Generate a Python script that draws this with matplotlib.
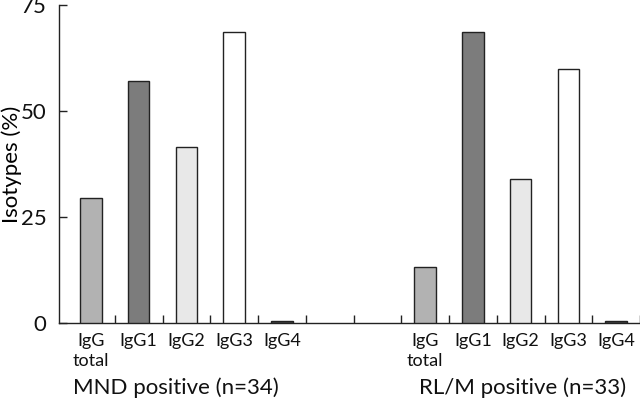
import matplotlib
matplotlib.use("Agg")
import matplotlib.pyplot as plt
import numpy as np

plt.rcParams['font.family'] = ['Lato', 'DejaVu Sans']

categories = ["IgG\ntotal", "IgG1", "IgG2", "IgG3", "IgG4"]
mnd_values = [29.6, 57.1, 41.6, 68.6, 0.4]
rlm_values = [13.2, 68.6, 33.9, 59.8, 0.4]
groups = ["MND positive (n=34)", "RL/M positive (n=33)"]
colors = ["#b2b2b2", "#7c7c7c", "#e8e8e8", "#ffffff", "#444444"]
yticks = [0, 25, 50, 75]

fig = plt.figure(figsize=(6.4, 4.01), dpi=100)
ax = fig.add_axes([0.0922, 0.1945, 0.9078, 0.793])

x_mnd = np.arange(len(categories))
x_rlm = np.arange(len(categories)) + 7
w = 0.45
ax.bar(x_mnd, mnd_values, width=w, color=colors, edgecolor="#222222", linewidth=1.0, zorder=3)
ax.bar(x_rlm, rlm_values, width=w, color=colors, edgecolor="#222222", linewidth=1.0, zorder=3)

ax.set_xlim(-0.67, 11.5)
ax.set_ylim(0, 75)
ax.set_yticks(yticks)
ax.set_yticklabels([str(t) for t in yticks], fontsize=16)
ax.set_xticks(np.arange(0.5, 12, 1.0))
ax.set_xticklabels([])
ax.tick_params(axis='y', direction='in', length=6, width=1, pad=9, colors='#222222', labelcolor='#111111')
ax.tick_params(axis='x', direction='in', length=6, width=1, colors='#222222')
for s in ['top', 'right']:
    ax.spines[s].set_visible(False)
for s in ['left', 'bottom']:
    ax.spines[s].set_linewidth(1.0)
    ax.spines[s].set_color('#222222')
ax.set_ylabel("Isotypes (%)", fontsize=16)
ax.yaxis.set_label_coords(-0.064, 0.5)

trans = ax.get_xaxis_transform()
for xs in (x_mnd, x_rlm):
    for xi, lab in zip(xs, categories):
        ax.text(xi, -0.03, lab, transform=trans, ha='center', va='top', fontsize=13,
                linespacing=1.35, color='#111111')
ax.text(1.78, -0.17, groups[0], transform=trans, ha='center', va='top', fontsize=16, color='#111111')
ax.text(9.04, -0.17, groups[1], transform=trans, ha='center', va='top', fontsize=16, color='#111111')

fig.savefig("out.png", dpi=100)
